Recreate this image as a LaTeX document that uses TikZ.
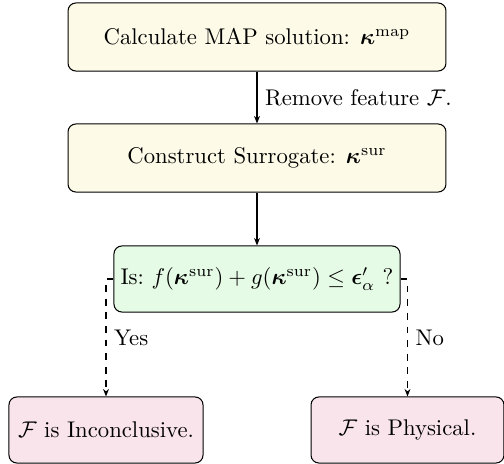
\documentclass[tikz,border=0pt]{standalone}
\usepackage{amsmath,amssymb}
\usetikzlibrary{arrows.meta}
\definecolor{boxyellow}{HTML}{FDFBE8}
\definecolor{boxgreen}{HTML}{E6FBE6}
\definecolor{boxpink}{HTML}{F8E4EA}
\tikzset{
  stepbox/.style={draw, rounded corners=3.5pt, line width=0.45pt, align=center, inner sep=2pt},
  procbox/.style={stepbox, fill=boxyellow, minimum width=166.5pt, minimum height=30pt},
  testbox/.style={stepbox, fill=boxgreen, minimum width=126pt, minimum height=29.1pt},
  endbox/.style={stepbox, fill=boxpink, minimum height=29.1pt},
  flow/.style={line width=0.45pt, -{Stealth[length=3.3pt,width=2.6pt]}},
  dflow/.style={flow, dashed},
}
\begin{document}
\begin{tikzpicture}[x=0.4405pt,y=-0.4405pt]
\useasboundingbox (0,0) rectangle (504,464);
\node[procbox] (map) at (257,37) {Calculate MAP solution: $\boldsymbol{\kappa}^{\mathrm{map}}$};
\node[procbox] (sur) at (257,158) {Construct Surrogate: $\boldsymbol{\kappa}^{\mathrm{sur}}$};
\node[testbox] (test) at (257,279) {Is:\ $f(\boldsymbol{\kappa}^{\mathrm{sur}}) + g(\boldsymbol{\kappa}^{\mathrm{sur}}) \leq \boldsymbol{\epsilon}'_{\alpha}$ ?};
\node[endbox, minimum width=85.5pt] (inc) at (106,430) {$\mathcal{F}$ is Inconclusive.};
\node[endbox, minimum width=85pt] (phy) at (407.5,430) {$\mathcal{F}$ is Physical.};
\draw[flow] (map) -- node[right] {Remove feature $\mathcal{F}$.} (sur);
\draw[flow] (sur) -- (test);
\draw[dflow] (test.west) -| node[pos=0.75, right] {Yes} (inc.north);
\draw[dflow] (test.east) -| node[pos=0.75, right] {No} (phy.north);
\end{tikzpicture}
\end{document}
